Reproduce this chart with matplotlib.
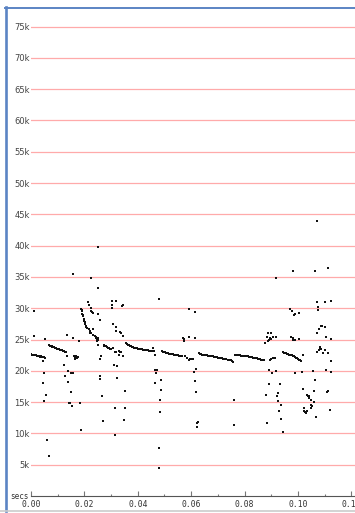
"""Scatter of samples vs time (secs), pink gridlines, blue frame."""
import matplotlib
matplotlib.use("Agg")
import matplotlib.pyplot as plt
from matplotlib.lines import Line2D
from matplotlib.ticker import FuncFormatter, MultipleLocator

# dense bands (t in secs, value)
band_t = [
    # A
    0.0001, 0.0004, 0.0007, 0.0010, 0.0013, 0.0016, 0.0019, 0.0022, 0.0025, 0.0028,
    0.0031, 0.0034, 0.0037, 0.0040, 0.0043, 0.0046, 0.0050,
    # B
    0.0068, 0.0071, 0.0074, 0.0077, 0.0080, 0.0083, 0.0086, 0.0089, 0.0092, 0.0095,
    0.0098, 0.0101, 0.0104, 0.0107, 0.0110, 0.0113, 0.0116, 0.0119, 0.0122, 0.0125,
    0.0128, 0.0131,
    # C
    0.0162, 0.0164, 0.0165, 0.0167, 0.0168, 0.0170, 0.0171, 0.0173, 0.0175, 0.0165, 0.0170,
    # D (falling)
    0.0189, 0.0190, 0.0191, 0.0192, 0.0193, 0.0195, 0.0197, 0.0199, 0.0201, 0.0203,
    0.0205, 0.0207, 0.0209, 0.0211, 0.0216, 0.0221, 0.0226, 0.0232, 0.0238, 0.0243,
    0.0223, 0.0226, 0.0229, 0.0233,
    0.0243, 0.0247, 0.0250, 0.0246, 0.0251, 0.0248,
    # E
    0.0272, 0.0275, 0.0278, 0.0282, 0.0285, 0.0288, 0.0291, 0.0295, 0.0298, 0.0307,
    0.0316, 0.0320, 0.0328, 0.0333, 0.0338, 0.0328, 0.0346,
    # F
    0.0355, 0.0358, 0.0362, 0.0366, 0.0370, 0.0374, 0.0378, 0.0382, 0.0386, 0.0390,
    0.0394, 0.0398, 0.0402, 0.0406, 0.0410, 0.0414, 0.0418, 0.0422, 0.0426, 0.0430,
    0.0434, 0.0438, 0.0442, 0.0446, 0.0450, 0.0454, 0.0457, 0.0461, 0.0466,
    # G
    0.0490, 0.0494, 0.0498, 0.0502, 0.0506, 0.0510, 0.0514, 0.0518, 0.0522, 0.0526,
    0.0530, 0.0534, 0.0538, 0.0542, 0.0546, 0.0550, 0.0554, 0.0558, 0.0562, 0.0566,
    0.0577, 0.0585, 0.0590, 0.0595, 0.0600, 0.0607,
    # H
    0.0628, 0.0632, 0.0636, 0.0640, 0.0644, 0.0648, 0.0652, 0.0656, 0.0660, 0.0664,
    0.0668, 0.0672, 0.0676, 0.0680, 0.0684, 0.0688, 0.0692, 0.0696, 0.0700, 0.0704,
    0.0708, 0.0712, 0.0716, 0.0720, 0.0724, 0.0728, 0.0732, 0.0736, 0.0740, 0.0744,
    0.0748, 0.0752, 0.0756,
    # I
    0.0763, 0.0767, 0.0771, 0.0775, 0.0779, 0.0783, 0.0787, 0.0791, 0.0795, 0.0799,
    0.0803, 0.0807, 0.0811, 0.0815, 0.0819, 0.0823, 0.0827, 0.0831, 0.0835, 0.0839,
    0.0843, 0.0847, 0.0851, 0.0855, 0.0859, 0.0863, 0.0867, 0.0871,
    0.0894, 0.0900, 0.0906, 0.0913,
    # J
    0.0944, 0.0948, 0.0952, 0.0956, 0.0960, 0.0964, 0.0968, 0.0972, 0.0976, 0.0980,
    0.0984, 0.0988, 0.0992, 0.0996, 0.1000, 0.1004, 0.1008, 0.1012, 0.1019,
]
band_v = [
    22650, 22600, 22550, 22600, 22500, 22450, 22500, 22400, 22350, 22400,
    22300, 22250, 22300, 22200, 22250, 22150, 22200,
    24100, 24000, 23950, 23900, 23850, 23800, 23750, 23700, 23650, 23600,
    23550, 23500, 23450, 23400, 23350, 23300, 23250, 23200, 23150, 23100,
    23000, 22950,
    22300, 22200, 22350, 22100, 22250, 22300, 22050, 22200, 22250, 21950, 22400,
    29900, 29700, 29500, 29100, 28900, 28700, 28300, 28000, 27800, 27400,
    27200, 27000, 26900, 26800, 26600, 26300, 26000, 25700, 25500, 25400,
    30000, 29600, 29400, 29200,
    25200, 25300, 25000, 24800, 25200, 25100,
    24200, 24000, 23900, 23900, 23800, 23700, 23600, 23500, 23500, 23700,
    22950, 23050, 23100, 23000, 23000, 22600, 22300,
    24500, 24300, 24200, 24100, 24000, 23900, 23850, 23800, 23700, 23650,
    23600, 23600, 23550, 23500, 23500, 23450, 23400, 23400, 23350, 23300,
    23300, 23250, 23200, 23200, 23150, 23100, 23600, 23100, 22600,
    23100, 23050, 23000, 22950, 22900, 22850, 22800, 22750, 22700, 22700,
    22650, 22600, 22550, 22500, 22500, 22450, 22400, 22350, 22300, 22300,
    22400, 22100, 21800, 21850, 21900, 21900,
    22800, 22700, 22650, 22600, 22600, 22550, 22500, 22500, 22450, 22400,
    22400, 22350, 22300, 22300, 22250, 22200, 22200, 22150, 22100, 22100,
    22050, 22000, 22000, 21950, 21900, 21900, 21850, 21800, 21800, 21700,
    21650, 21500, 21400,
    22500, 22550, 22500, 22500, 22450, 22450, 22400, 22400, 22350, 22350,
    22300, 22300, 22300, 22250, 22200, 22200, 22150, 22100, 22100, 22050,
    22000, 22000, 21950, 21900, 21850, 21800, 21750, 21700,
    21800, 21900, 22000, 22100,
    23000, 22900, 22850, 22800, 22750, 22700, 22600, 22550, 22500, 22400,
    22300, 22200, 22100, 22000, 21900, 21800, 21700, 21600, 22500,
]

# scattered samples
scatter_t = [
    0.0251, 0.0157, 0.0223, 0.0251, 0.0213, 0.0217, 0.0010, 0.0305, 0.0318, 0.0303,
    0.0303, 0.0344, 0.0340, 0.0250, 0.0257, 0.0232, 0.0222, 0.0251, 0.0306, 0.0318,
    0.0317, 0.0333, 0.0338, 0.0343, 0.0257, 0.0263, 0.0311, 0.0323, 0.0011, 0.0054,
    0.0157, 0.0135, 0.0180, 0.0045, 0.0052, 0.0135, 0.0124, 0.0049, 0.0139, 0.0149,
    0.0157, 0.0126, 0.0139, 0.0046, 0.0257, 0.0260, 0.0323, 0.0151, 0.0351, 0.0056,
    0.0266, 0.0049, 0.0142, 0.0145, 0.0154, 0.0182, 0.0313, 0.0351, 0.0269, 0.0348,
    0.0186, 0.0313, 0.0061, 0.0069,
    0.0481, 0.0591, 0.0613, 0.0569, 0.0573, 0.0572, 0.0590, 0.0613, 0.0466, 0.0473,
    0.0470, 0.0488, 0.0466, 0.0486, 0.0484, 0.0483, 0.0481, 0.0481, 0.0617, 0.0610,
    0.0616, 0.0618, 0.0625, 0.0623, 0.0620, 0.0762, 0.0762,
    0.1112, 0.1062, 0.0980, 0.0917, 0.1070, 0.1100, 0.1122, 0.1074, 0.1074, 0.0971,
    0.0977, 0.0987, 0.0985, 0.1002, 0.1077, 0.1085, 0.1090, 0.1100, 0.1071,
    0.0888, 0.0898, 0.0885, 0.0894, 0.0900, 0.0905, 0.0918, 0.0878, 0.0893, 0.0888,
    0.0972, 0.0980, 0.0983, 0.0990, 0.1004, 0.1105, 0.1125,
    0.1081, 0.1087, 0.1077, 0.1070, 0.1095, 0.1112, 0.1100, 0.1084, 0.1122,
    0.0890, 0.0903, 0.0919, 0.0987, 0.1016, 0.1056, 0.1105, 0.1122, 0.1065,
    0.0891, 0.0931, 0.1019, 0.0925, 0.0923, 0.0879, 0.1060, 0.1107, 0.1112,
    0.1032, 0.1037, 0.1042, 0.1047, 0.1040, 0.0925, 0.0935, 0.1060, 0.1052, 0.1047,
    0.1050, 0.1023, 0.1028, 0.1031, 0.1023, 0.1035, 0.1119, 0.0929, 0.0937, 0.0883,
    0.0944, 0.1067, 0.1071,
]
scatter_v = [
    39800, 35400, 34900, 33300, 31000, 30500, 29500, 31200, 31100, 30500,
    30000, 30500, 30400, 29000, 28100, 26600, 26100, 24200, 27400, 27000,
    26300, 26200, 26000, 25600, 21900, 22400, 21000, 20800, 25600, 25100,
    25200, 25700, 24700, 21500, 22100, 22400, 21000, 19700, 20000, 19700,
    19700, 19100, 18200, 18100, 19100, 18700, 18800, 16600, 16700, 16200,
    15900, 15100, 14900, 14800, 14400, 14800, 14000, 14100, 12000, 12200,
    10500, 9700, 8900, 6400,
    31400, 29900, 29400, 25300, 25100, 24700, 25400, 25300, 20200, 20100,
    19600, 18600, 18000, 17000, 15400, 13400, 7600, 4400, 20300, 19800,
    18300, 16600, 11900, 11600, 11000, 15300, 11400,
    36500, 36000, 35900, 34900, 31000, 31000, 31100, 30200, 29700, 29800,
    29600, 29100, 28900, 29300, 26700, 27100, 27200, 27000, 26100,
    26000, 26000, 25400, 25300, 25100, 25400, 25400, 24500, 24900, 24700,
    25400, 25300, 25000, 24900, 25100, 25400, 25100,
    23700, 23500, 23300, 23000, 22900, 22800, 23400, 23800, 21500,
    20100, 19700, 19900, 19700, 19800, 19900, 20200, 19800, 18500,
    17900, 17900, 17100, 16500, 16000, 16200, 16700, 16600, 16800,
    16200, 16000, 15700, 15300, 16000, 15100, 14600, 15000, 14400, 14100,
    14500, 14000, 13400, 13200, 13600, 13600, 13800, 13600, 12300, 11600,
    10300, 12600, 43900,
]

y_ticks = [5000 * k for k in range(1, 16)]

W, H = 355, 513
fig = plt.figure(figsize=(W / 100, H / 100), dpi=100)
ax = fig.add_axes([31 / W, 17 / H, 324 / W, 487 / H])

ax.scatter(band_t + scatter_t, band_v + scatter_v, s=1.0, marker="s",
           color="#111111", linewidths=0, zorder=3)

ax.set_xlim(0, 0.12135)
ax.set_ylim(0, 77800)

ax.set_yticks(y_ticks)
ax.yaxis.set_major_formatter(FuncFormatter(lambda v, p: f"{int(v / 1000)}k"))
ax.grid(axis="y", color="#ffaaaa", linewidth=0.9)
ax.set_axisbelow(True)
ax.tick_params(axis="y", length=0, pad=1, labelsize=6, labelcolor="#444444")

ax.xaxis.set_major_locator(MultipleLocator(0.02))
ax.xaxis.set_minor_locator(MultipleLocator(0.01))
ax.xaxis.set_major_formatter(FuncFormatter(lambda v, p: f"{v:.2f}"))
ax.tick_params(axis="x", which="major", direction="in", length=3.5, width=0.8,
               color="#777777", pad=3, labelsize=5.8, labelcolor="#333333")
ax.tick_params(axis="x", which="minor", direction="in", length=1.8, width=0.8,
               color="#777777")
for lbl in ax.get_xticklabels():
    lbl.set_family("DejaVu Sans Mono")

for side in ("top", "right", "left"):
    ax.spines[side].set_visible(False)
ax.spines["bottom"].set_color("#555555")
ax.spines["bottom"].set_linewidth(0.8)

fig.text(29 / W, 1 - 496.5 / H, "secs", ha="right", va="center",
         fontsize=5.5, family="DejaVu Sans Mono", color="#333333")

# window frame
blue = "#5b84c4"
fig.add_artist(Line2D([6 / W, 6 / W], [1 - 7 / H, 1 - 511 / H], color=blue,
                      linewidth=1.9, transform=fig.transFigure))
fig.add_artist(Line2D([5 / W, 1], [1 - 7.5 / H, 1 - 7.5 / H], color=blue,
                      linewidth=1.4, transform=fig.transFigure))
fig.add_artist(Line2D([0, 1], [1 - 511 / H, 1 - 511 / H], color="#cccccc",
                      linewidth=1.2, transform=fig.transFigure))

fig.savefig("out.png", dpi=100)
